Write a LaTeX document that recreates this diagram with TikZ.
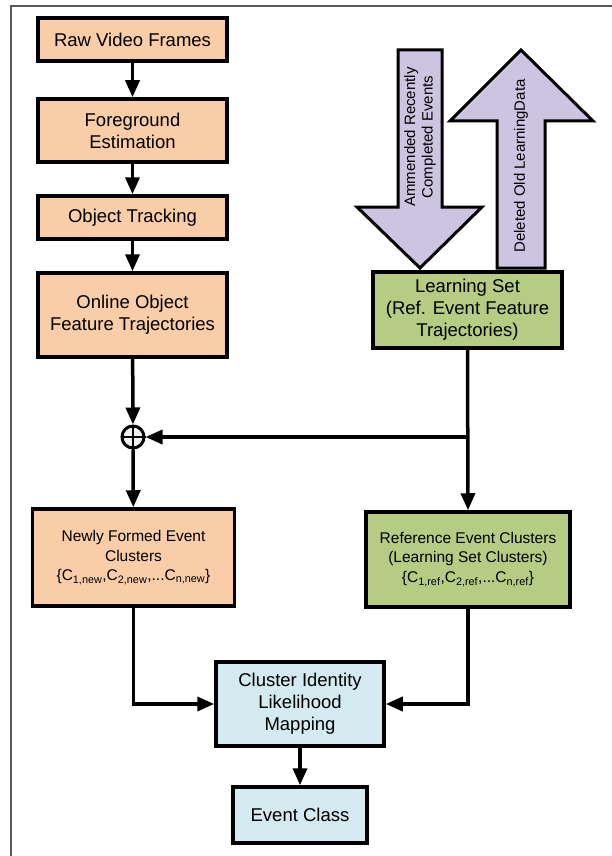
\documentclass[tikz,border=0pt]{standalone}
\usepackage{fontspec}
\setmainfont{Liberation Sans}
\setsansfont{Liberation Sans}
\usetikzlibrary{arrows.meta}
\definecolor{peach}{HTML}{F9CDA8}
\definecolor{leaf}{HTML}{B5CC82}
\definecolor{sky}{HTML}{D2EAF0}
\definecolor{lilac}{HTML}{CCC4E0}
\tikzset{>={Triangle[length=17pt,width=14pt]}}
\tikzset{
  block/.style = {draw, line width=3.5pt, align=center, inner sep=0pt,
    font=\sffamily\fontsize{18.5}{22}\selectfont},
  smallblock/.style = {block, font=\sffamily\fontsize{15.5}{19.5}\selectfont},
  online/.style = {fill=peach},
  learnt/.style = {fill=leaf},
  result/.style = {fill=sky},
  update/.style = {draw, fill=lilac, line width=3pt, line join=miter},
  uplabel/.style = {rotate=90, align=center, font=\sffamily\fontsize{15}{17.5}\selectfont},
  flow/.style = {line width=3.5pt, ->}
}

\begin{document}
\begin{tikzpicture}[x=1pt,y=-1pt]
  \useasboundingbox (0,0) rectangle (612,856);
  \draw[gray!70!black, line width=1.5pt] (11,856) -- (11,6) -- (612,6);

  \node[block,online,minimum width=189pt,minimum height=43pt] (raw) at (132.5,39.5) {Raw Video Frames};
  \node[block,online,minimum width=189pt,minimum height=63pt] (fg) at (132.5,130.5) {Foreground\\Estimation};
  \node[block,online,minimum width=189pt,minimum height=43pt] (track) at (132.5,217.5) {Object Tracking};
  \node[block,online,minimum width=189pt,minimum height=84pt] (traj) at (132.5,315) {Online Object\\Feature Trajectories};
  \node[block,learnt,minimum width=189pt,minimum height=76pt] (learn) at (467.5,310) {Learning Set\\(Ref. Event Feature\\Trajectories)};

  \draw[update] (398,50) -- (442,50) -- (442,207) -- (482,207) -- (420,268) -- (357,207) -- (398,207) -- cycle;
  \node[uplabel] (amend) at (420,137) {Ammended Recently\\Completed Events};
  \draw[update] (497,268) -- (497,121) -- (450,121) -- (521,50) -- (593,121) -- (545,121) -- (545,268) -- cycle;
  \node[uplabel] (drop) at (521,166) {Deleted Old LearningData};

  \node[draw, circle, fill=gray!12, line width=3pt, minimum size=22pt, inner sep=0pt] (plus) at (133,437) {};
  \draw[line width=2.5pt] (plus.north) -- (plus.south) (plus.west) -- (plus.east);

  \node[smallblock,online,minimum width=202pt,minimum height=97pt] (newc) at (133.5,557.5) {Newly Formed Event\\Clusters\\\{C\textsubscript{1,new},C\textsubscript{2,new},...C\textsubscript{n,new}\}};
  \node[smallblock,learnt,minimum width=204pt,minimum height=95pt] (refc) at (468,559.5) {Reference Event Clusters\\(Learning Set Clusters)\\\{C\textsubscript{1,ref},C\textsubscript{2,ref},...C\textsubscript{n,ref}\}};
  \node[block,result,minimum width=168pt,minimum height=84pt] (clus) at (300,704) {Cluster Identity\\Likelihood\\Mapping};
  \node[block,result,minimum width=134pt,minimum height=56pt] (evc) at (300,815) {Event Class};

  \draw[flow] (raw) -- (fg);
  \draw[flow] (fg) -- (track);
  \draw[flow] (track) -- (traj);
  \draw[flow] (traj) -- (plus);
  \draw[flow] (learn.south) -- (refc.north);
  \coordinate (split) at (learn.south |- plus);
  \draw[flow] (split) -- (plus);
  \draw[flow] (plus) -- (newc);
  \draw[flow] (newc.south) |- (clus.west);
  \draw[flow] (refc.south) |- (clus.east);
  \draw[flow] (clus) -- (evc);
\end{tikzpicture}
\end{document}
